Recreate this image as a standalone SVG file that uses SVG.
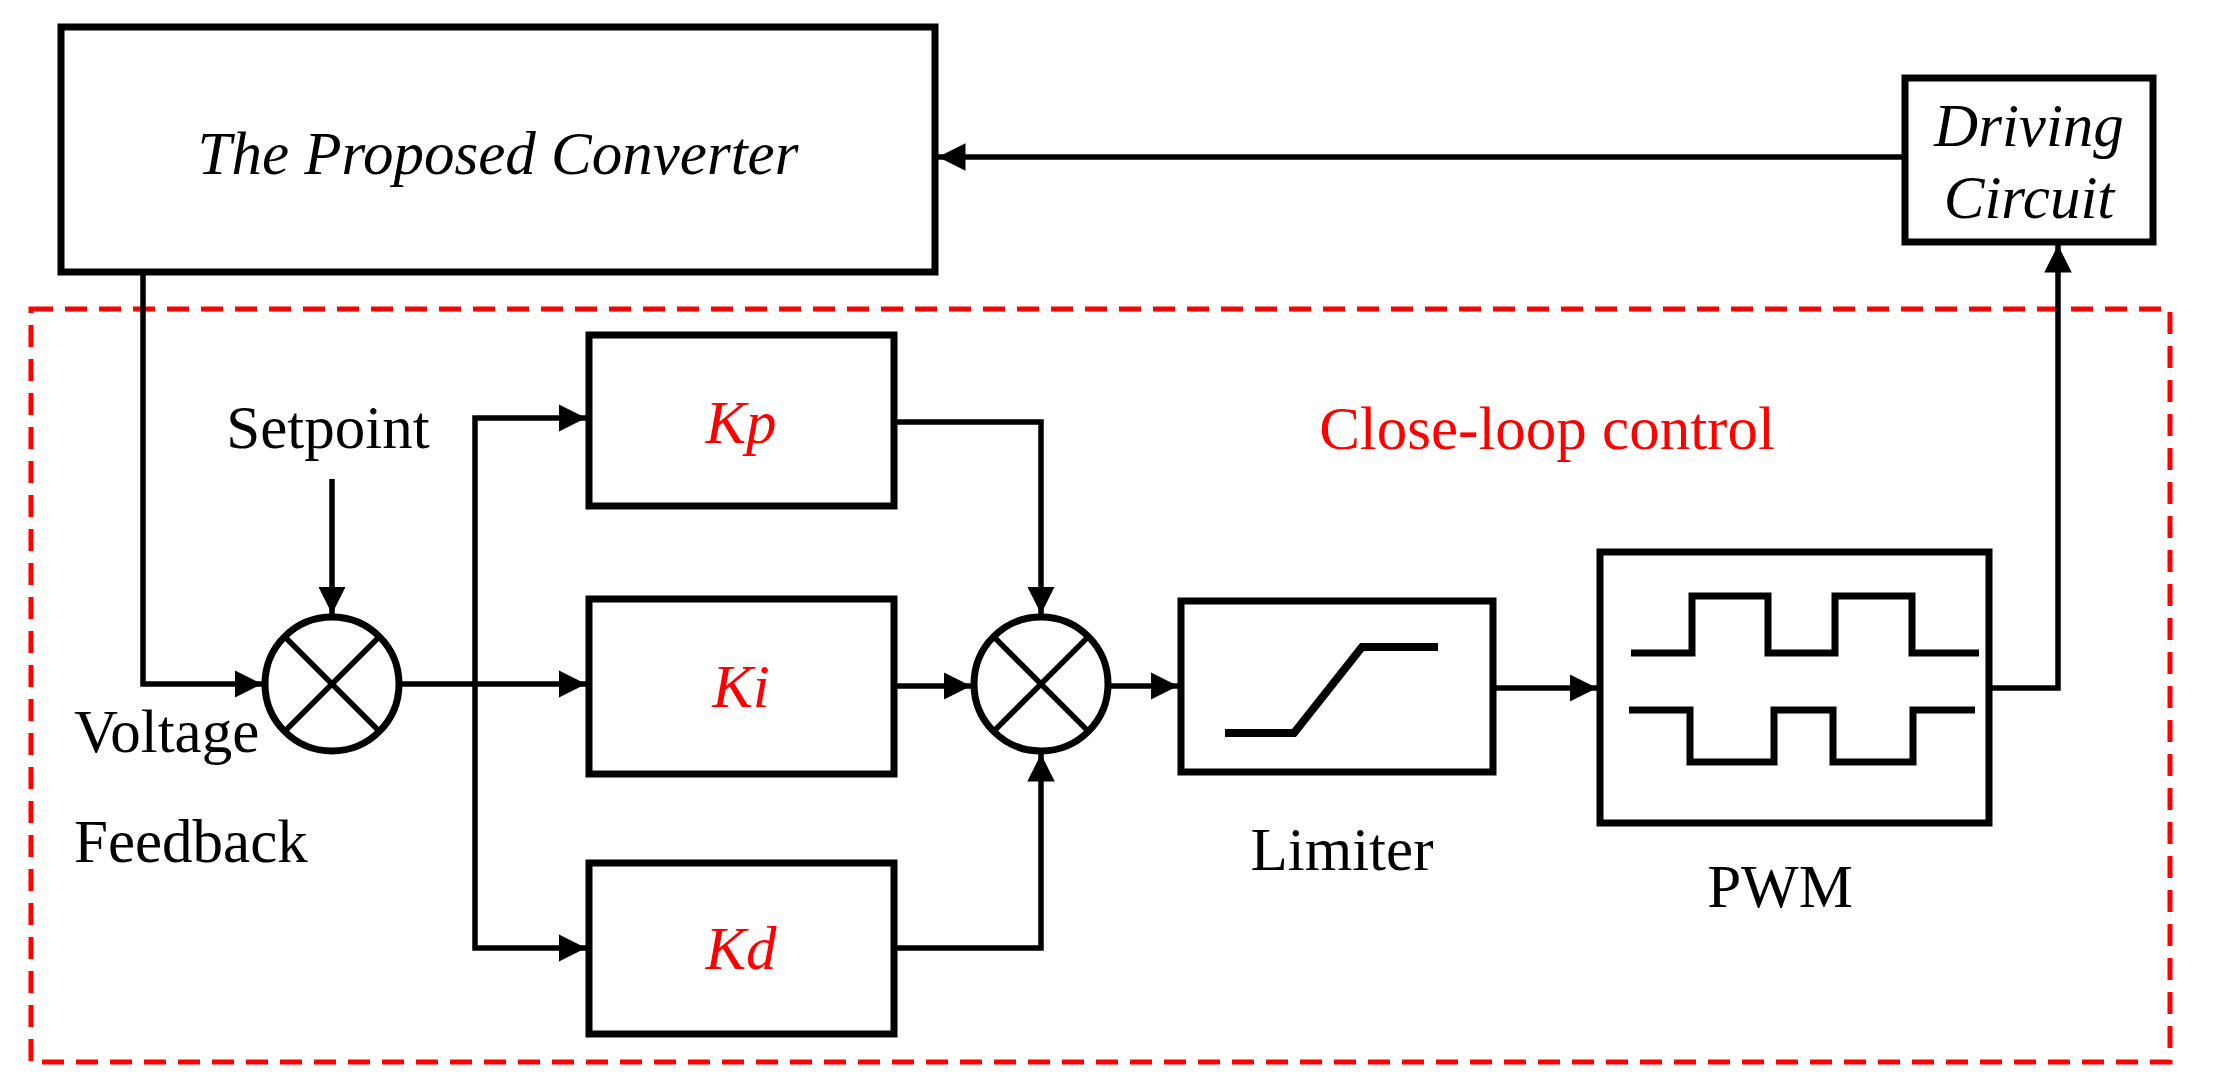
<svg xmlns="http://www.w3.org/2000/svg" width="2236" height="1090" viewBox="0 0 2236 1090">
<style>
.box{fill:#fff;stroke:#000;stroke-width:7}
.ln{fill:none;stroke:#000;stroke-width:5.5}
.t{font-family:"Liberation Serif",serif;font-size:61px;fill:#000;text-anchor:middle}
.i{font-style:italic}
.r{fill:#f00}
.s{text-anchor:start}
</style>
<defs>
<marker id="a" viewBox="0 0 10 10" refX="10" refY="5" markerWidth="5" markerHeight="5" orient="auto" markerUnits="strokeWidth"><path d="M0,0L10,5L0,10z" fill="#000"/></marker>
</defs>
<rect x="31" y="309" width="2139" height="753" fill="none" stroke="#f00" stroke-width="5" stroke-dasharray="22,12"/>
<text class="t r" x="1547" y="449" font-size="64">Close-loop control</text>
<g id="conn">
<path class="ln" d="M1905,157H938" marker-end="url(#a)"/>
<path class="ln" d="M143,272V684H262" marker-end="url(#a)"/>
<path class="ln" d="M332,479V614" marker-end="url(#a)"/>
<path class="ln" d="M399,684H586" marker-end="url(#a)"/>
<path class="ln" d="M475,684V418H586" marker-end="url(#a)"/>
<path class="ln" d="M475,684V948H586" marker-end="url(#a)"/>
<path class="ln" d="M894,422H1041V614" marker-end="url(#a)"/>
<path class="ln" d="M894,686H971" marker-end="url(#a)"/>
<path class="ln" d="M894,948H1041V754" marker-end="url(#a)"/>
<path class="ln" d="M1108,686H1178" marker-end="url(#a)"/>
<path class="ln" d="M1493,688H1597" marker-end="url(#a)"/>
<path class="ln" d="M1989,688H2058V245" marker-end="url(#a)"/>
</g>
<g id="converter"><rect class="box" x="61" y="27" width="874" height="245"/><text class="t i" x="498" y="174" font-size="66">The Proposed Converter</text></g>
<g id="driving"><rect class="box" x="1905" y="78" width="248" height="164"/><text class="t i" x="2029" y="146" font-size="49">Driving</text><text class="t i" x="2029" y="218" font-size="49">Circuit</text></g>
<g id="setpoint"><text class="t" x="328" y="448">Setpoint</text></g>
<g id="feedback"><text class="t s" x="74" y="752" font-size="58">Voltage</text><text class="t s" x="74" y="862" font-size="58">Feedback</text></g>
<g id="sum1"><circle cx="332" cy="684" r="67" class="box"/><path class="ln" d="M285,637L379,731M379,637L285,731" stroke-width="6"/></g>
<g id="kp"><rect class="box" x="589" y="335" width="305" height="171"/><text class="t i r" x="741" y="443" font-size="62">Kp</text></g>
<g id="ki"><rect class="box" x="589" y="599" width="305" height="175"/><text class="t i r" x="741" y="707" font-size="62">Ki</text></g>
<g id="kd"><rect class="box" x="589" y="863" width="305" height="171"/><text class="t i r" x="741" y="969" font-size="62">Kd</text></g>
<g id="sum2"><circle cx="1041" cy="684" r="67" class="box"/><path class="ln" d="M994,637L1088,731M1088,637L994,731" stroke-width="6"/></g>
<g id="limiter"><rect class="box" x="1181" y="601" width="312" height="171"/><path d="M1225,733H1294L1362,647H1438" fill="none" stroke="#000" stroke-width="8"/><text class="t" x="1342" y="870">Limiter</text></g>
<g id="pwm"><rect class="box" x="1600" y="552" width="389" height="271"/><path d="M1631,653H1692V596H1768V653H1835V596H1912V653H1979M1629,710H1690V762H1774V710H1833V762H1913V710H1975" fill="none" stroke="#000" stroke-width="7"/><text class="t" x="1780" y="907">PWM</text></g>
</svg>
